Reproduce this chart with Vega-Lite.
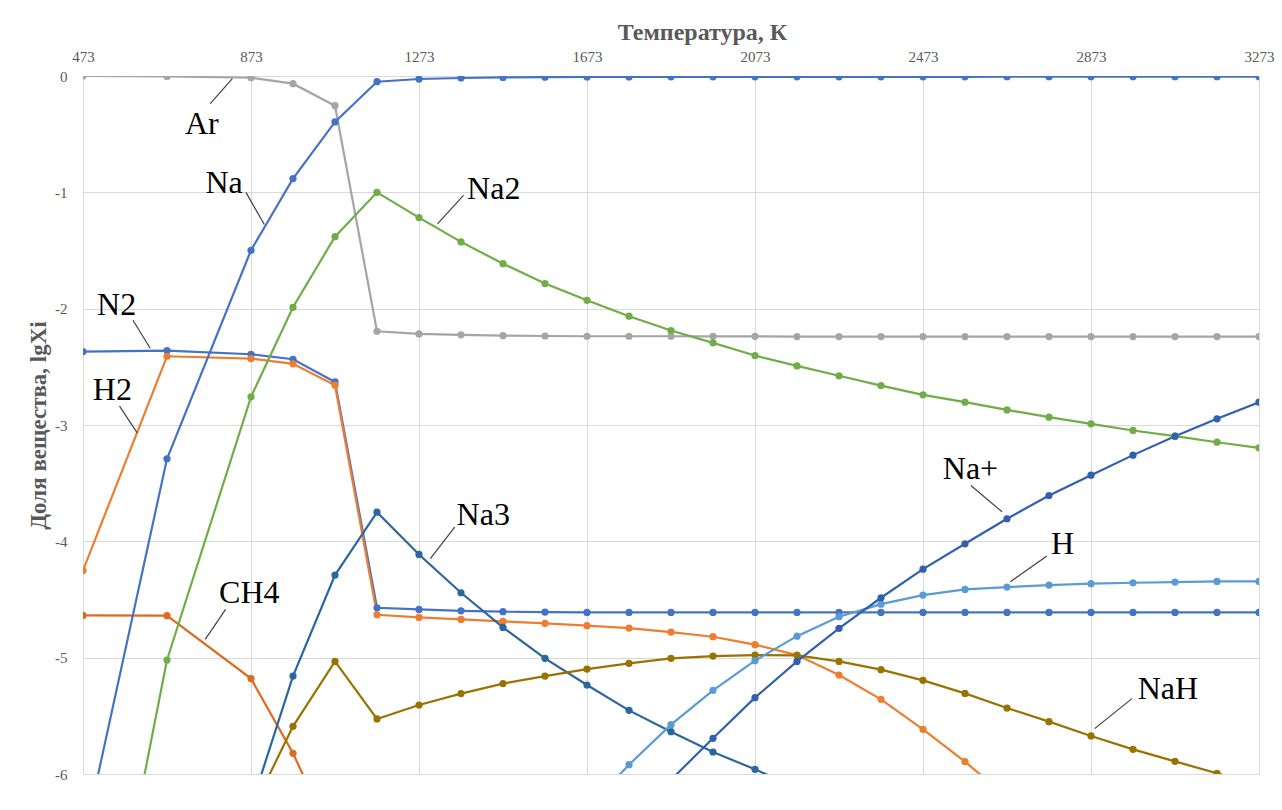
{
  "$schema": "https://vega.github.io/schema/vega-lite/v6.json",
  "width": 1176,
  "height": 698,
  "autosize": "none",
  "padding": {"left": 83, "top": 76, "right": 23, "bottom": 36},
  "background": "white",
  "config": {"view": {"stroke": null}},
  "datasets": {
    "series": [
      {"s":"Ar","T":473,"v":0},{"s":"Ar","T":673,"v":-0.004},{"s":"Ar","T":873,"v":-0.015},{"s":"Ar","T":973,"v":-0.066},{"s":"Ar","T":1073,"v":-0.255},{"s":"Ar","T":1173,"v":-2.194},{"s":"Ar","T":1273,"v":-2.217},{"s":"Ar","T":1373,"v":-2.225},{"s":"Ar","T":1473,"v":-2.232},{"s":"Ar","T":1573,"v":-2.235},{"s":"Ar","T":1673,"v":-2.237},{"s":"Ar","T":1773,"v":-2.237},{"s":"Ar","T":1873,"v":-2.237},{"s":"Ar","T":1973,"v":-2.238},{"s":"Ar","T":2073,"v":-2.238},{"s":"Ar","T":2173,"v":-2.24},{"s":"Ar","T":2273,"v":-2.24},{"s":"Ar","T":2373,"v":-2.24},{"s":"Ar","T":2473,"v":-2.24},{"s":"Ar","T":2573,"v":-2.24},{"s":"Ar","T":2673,"v":-2.24},{"s":"Ar","T":2773,"v":-2.24},{"s":"Ar","T":2873,"v":-2.24},{"s":"Ar","T":2973,"v":-2.24},{"s":"Ar","T":3073,"v":-2.24},{"s":"Ar","T":3173,"v":-2.24},{"s":"Ar","T":3273,"v":-2.24},
      {"s":"N2","T":473,"v":-2.369},{"s":"N2","T":673,"v":-2.36},{"s":"N2","T":873,"v":-2.392},{"s":"N2","T":973,"v":-2.435},{"s":"N2","T":1073,"v":-2.63},{"s":"N2","T":1173,"v":-4.571},{"s":"N2","T":1273,"v":-4.585},{"s":"N2","T":1373,"v":-4.597},{"s":"N2","T":1473,"v":-4.605},{"s":"N2","T":1573,"v":-4.608},{"s":"N2","T":1673,"v":-4.611},{"s":"N2","T":1773,"v":-4.611},{"s":"N2","T":1873,"v":-4.611},{"s":"N2","T":1973,"v":-4.611},{"s":"N2","T":2073,"v":-4.611},{"s":"N2","T":2173,"v":-4.611},{"s":"N2","T":2273,"v":-4.611},{"s":"N2","T":2373,"v":-4.611},{"s":"N2","T":2473,"v":-4.611},{"s":"N2","T":2573,"v":-4.611},{"s":"N2","T":2673,"v":-4.611},{"s":"N2","T":2773,"v":-4.611},{"s":"N2","T":2873,"v":-4.611},{"s":"N2","T":2973,"v":-4.611},{"s":"N2","T":3073,"v":-4.611},{"s":"N2","T":3173,"v":-4.611},{"s":"N2","T":3273,"v":-4.611},
      {"s":"H2","T":473,"v":-4.25},{"s":"H2","T":673,"v":-2.409},{"s":"H2","T":873,"v":-2.429},{"s":"H2","T":973,"v":-2.474},{"s":"H2","T":1073,"v":-2.658},{"s":"H2","T":1173,"v":-4.631},{"s":"H2","T":1273,"v":-4.654},{"s":"H2","T":1373,"v":-4.671},{"s":"H2","T":1473,"v":-4.688},{"s":"H2","T":1573,"v":-4.705},{"s":"H2","T":1673,"v":-4.725},{"s":"H2","T":1773,"v":-4.746},{"s":"H2","T":1873,"v":-4.78},{"s":"H2","T":1973,"v":-4.82},{"s":"H2","T":2073,"v":-4.888},{"s":"H2","T":2173,"v":-4.978},{"s":"H2","T":2273,"v":-5.149},{"s":"H2","T":2373,"v":-5.358},{"s":"H2","T":2473,"v":-5.616},{"s":"H2","T":2573,"v":-5.894},{"s":"H2","T":2673,"v":-6.2},{"s":"H2","T":2773,"v":-6.55},
      {"s":"CH4","T":473,"v":-4.637},{"s":"CH4","T":673,"v":-4.639},{"s":"CH4","T":873,"v":-5.18},{"s":"CH4","T":973,"v":-5.822},{"s":"CH4","T":1073,"v":-6.6},
      {"s":"Na","T":473,"v":-6.6},{"s":"Na","T":673,"v":-3.29},{"s":"Na","T":873,"v":-1.498},{"s":"Na","T":973,"v":-0.882},{"s":"Na","T":1073,"v":-0.395},{"s":"Na","T":1173,"v":-0.049},{"s":"Na","T":1273,"v":-0.026},{"s":"Na","T":1373,"v":-0.017},{"s":"Na","T":1473,"v":-0.012},{"s":"Na","T":1573,"v":-0.01},{"s":"Na","T":1673,"v":-0.008},{"s":"Na","T":1773,"v":-0.008},{"s":"Na","T":1873,"v":-0.007},{"s":"Na","T":1973,"v":-0.007},{"s":"Na","T":2073,"v":-0.007},{"s":"Na","T":2173,"v":-0.007},{"s":"Na","T":2273,"v":-0.007},{"s":"Na","T":2373,"v":-0.007},{"s":"Na","T":2473,"v":-0.007},{"s":"Na","T":2573,"v":-0.007},{"s":"Na","T":2673,"v":-0.006},{"s":"Na","T":2773,"v":-0.006},{"s":"Na","T":2873,"v":-0.006},{"s":"Na","T":2973,"v":-0.006},{"s":"Na","T":3073,"v":-0.006},{"s":"Na","T":3173,"v":-0.006},{"s":"Na","T":3273,"v":-0.006},
      {"s":"Na2","T":473,"v":-8.7},{"s":"Na2","T":673,"v":-5.02},{"s":"Na2","T":873,"v":-2.758},{"s":"Na2","T":973,"v":-1.988},{"s":"Na2","T":1073,"v":-1.381},{"s":"Na2","T":1173,"v":-1.0},{"s":"Na2","T":1273,"v":-1.217},{"s":"Na2","T":1373,"v":-1.426},{"s":"Na2","T":1473,"v":-1.613},{"s":"Na2","T":1573,"v":-1.784},{"s":"Na2","T":1673,"v":-1.928},{"s":"Na2","T":1773,"v":-2.065},{"s":"Na2","T":1873,"v":-2.188},{"s":"Na2","T":1973,"v":-2.294},{"s":"Na2","T":2073,"v":-2.403},{"s":"Na2","T":2173,"v":-2.492},{"s":"Na2","T":2273,"v":-2.577},{"s":"Na2","T":2373,"v":-2.661},{"s":"Na2","T":2473,"v":-2.741},{"s":"Na2","T":2573,"v":-2.804},{"s":"Na2","T":2673,"v":-2.87},{"s":"Na2","T":2773,"v":-2.933},{"s":"Na2","T":2873,"v":-2.99},{"s":"Na2","T":2973,"v":-3.047},{"s":"Na2","T":3073,"v":-3.096},{"s":"Na2","T":3173,"v":-3.148},{"s":"Na2","T":3273,"v":-3.196},
      {"s":"Na3","T":873,"v":-6.28},{"s":"Na3","T":973,"v":-5.158},{"s":"Na3","T":1073,"v":-4.29},{"s":"Na3","T":1173,"v":-3.749},{"s":"Na3","T":1273,"v":-4.113},{"s":"Na3","T":1373,"v":-4.442},{"s":"Na3","T":1473,"v":-4.74},{"s":"Na3","T":1573,"v":-5.006},{"s":"Na3","T":1673,"v":-5.235},{"s":"Na3","T":1773,"v":-5.453},{"s":"Na3","T":1873,"v":-5.636},{"s":"Na3","T":1973,"v":-5.811},{"s":"Na3","T":2073,"v":-5.96},{"s":"Na3","T":2173,"v":-6.12},
      {"s":"NaH","T":873,"v":-6.33},{"s":"NaH","T":973,"v":-5.59},{"s":"NaH","T":1073,"v":-5.032},{"s":"NaH","T":1173,"v":-5.527},{"s":"NaH","T":1273,"v":-5.407},{"s":"NaH","T":1373,"v":-5.309},{"s":"NaH","T":1473,"v":-5.223},{"s":"NaH","T":1573,"v":-5.158},{"s":"NaH","T":1673,"v":-5.098},{"s":"NaH","T":1773,"v":-5.049},{"s":"NaH","T":1873,"v":-5.006},{"s":"NaH","T":1973,"v":-4.986},{"s":"NaH","T":2073,"v":-4.978},{"s":"NaH","T":2173,"v":-4.98},{"s":"NaH","T":2273,"v":-5.032},{"s":"NaH","T":2373,"v":-5.103},{"s":"NaH","T":2473,"v":-5.195},{"s":"NaH","T":2573,"v":-5.307},{"s":"NaH","T":2673,"v":-5.433},{"s":"NaH","T":2773,"v":-5.55},{"s":"NaH","T":2873,"v":-5.673},{"s":"NaH","T":2973,"v":-5.788},{"s":"NaH","T":3073,"v":-5.891},{"s":"NaH","T":3173,"v":-5.994},{"s":"NaH","T":3273,"v":-6.1},
      {"s":"H","T":1673,"v":-6.3},{"s":"H","T":1773,"v":-5.92},{"s":"H","T":1873,"v":-5.576},{"s":"H","T":1973,"v":-5.281},{"s":"H","T":2073,"v":-5.026},{"s":"H","T":2173,"v":-4.815},{"s":"H","T":2273,"v":-4.648},{"s":"H","T":2373,"v":-4.54},{"s":"H","T":2473,"v":-4.462},{"s":"H","T":2573,"v":-4.413},{"s":"H","T":2673,"v":-4.393},{"s":"H","T":2773,"v":-4.376},{"s":"H","T":2873,"v":-4.364},{"s":"H","T":2973,"v":-4.356},{"s":"H","T":3073,"v":-4.35},{"s":"H","T":3173,"v":-4.345},{"s":"H","T":3273,"v":-4.345},
      {"s":"Na+","T":1873,"v":-6.05},{"s":"Na+","T":1973,"v":-5.693},{"s":"Na+","T":2073,"v":-5.344},{"s":"Na+","T":2173,"v":-5.032},{"s":"Na+","T":2273,"v":-4.748},{"s":"Na+","T":2373,"v":-4.485},{"s":"Na+","T":2473,"v":-4.239},{"s":"Na+","T":2573,"v":-4.021},{"s":"Na+","T":2673,"v":-3.806},{"s":"Na+","T":2773,"v":-3.606},{"s":"Na+","T":2873,"v":-3.431},{"s":"Na+","T":2973,"v":-3.259},{"s":"Na+","T":3073,"v":-3.096},{"s":"Na+","T":3173,"v":-2.947},{"s":"Na+","T":3273,"v":-2.804}
    ],
    "labels": [
      {"label":"Ar","T":756,"v":-0.496},
      {"label":"Na","T":809,"v":-1.007},
      {"label":"Na2","T":1451,"v":-1.054},
      {"label":"N2","T":553,"v":-2.051},
      {"label":"H2","T":543,"v":-2.787},
      {"label":"CH4","T":869,"v":-4.533},
      {"label":"Na3","T":1426,"v":-3.863},
      {"label":"Na+","T":2586,"v":-3.462},
      {"label":"H","T":2805,"v":-4.113},
      {"label":"NaH","T":3056,"v":-5.352}
    ],
    "leaders": [
      {"id":"Ar","T":776,"v":-0.238},{"id":"Ar","T":828.5,"v":-0.023},
      {"id":"Na","T":861,"v":-1.0},{"id":"Na","T":904.7,"v":-1.277},
      {"id":"Na2","T":1379,"v":-1.026},{"id":"Na2","T":1317,"v":-1.271},
      {"id":"N2","T":592,"v":-2.1},{"id":"N2","T":633,"v":-2.34},
      {"id":"H2","T":560,"v":-2.838},{"id":"H2","T":602,"v":-3.067},
      {"id":"CH4","T":812.5,"v":-4.585},{"id":"CH4","T":764,"v":-4.843},
      {"id":"Na3","T":1358,"v":-3.878},{"id":"Na3","T":1300,"v":-4.149},
      {"id":"Na+","T":2587,"v":-3.52},{"id":"Na+","T":2661,"v":-3.746},
      {"id":"H","T":2768,"v":-4.127},{"id":"H","T":2681,"v":-4.347},
      {"id":"NaH","T":2970.6,"v":-5.352},{"id":"NaH","T":2881.6,"v":-5.61}
    ]
  },
  "encoding": {
    "x": {
      "field": "T", "type": "quantitative",
      "scale": {"domain": [473, 3273], "nice": false, "zero": false},
      "axis": {
        "orient": "top",
        "values": [473, 873, 1273, 1673, 2073, 2473, 2873, 3273],
        "format": "d",
        "labelFlush": false, "labelOverlap": false,
        "title": "Температура, К",
        "titleFont": "Liberation Serif", "titleFontSize": 24, "titleFontWeight": "bold", "titleColor": "#595959",
        "titleX": 619, "titleY": -37, "titleAlign": "center", "titleBaseline": "alphabetic",
        "labelFont": "Liberation Serif", "labelFontSize": 15, "labelColor": "#595959", "labelPadding": 12,
        "ticks": false, "domain": false,
        "grid": true, "gridColor": "#d9d9d9", "gridWidth": 1
      }
    },
    "y": {
      "field": "v", "type": "quantitative",
      "scale": {"domain": [-6, 0], "nice": false, "zero": false},
      "axis": {
        "values": [-6, -5, -4, -3, -2, -1, 0],
        "labelExpr": "'' + datum.value",
        "title": "Доля вещества, lgXi",
        "titleFont": "Liberation Serif", "titleFontSize": 23, "titleFontWeight": "bold", "titleColor": "#595959", "titlePadding": 4,
        "labelFont": "Liberation Serif", "labelFontSize": 15, "labelColor": "#595959", "labelPadding": 16,
        "ticks": false, "domain": false,
        "grid": true, "gridColor": "#d9d9d9", "gridWidth": 1
      }
    }
  },
  "layer": [
    {
      "data": {"name": "series"},
      "mark": {"type": "line", "clip": true, "strokeWidth": 2.2},
      "encoding": {
        "color": {"field": "s", "type": "nominal", "legend": null,
          "scale": {"domain": ["Ar","N2","H2","CH4","Na","Na2","Na3","NaH","H","Na+"],
                    "range": ["#A5A5A5","#4472C4","#ED7D31","#DD6A1E","#4472C4","#70AD47","#2B669E","#997300","#5B9BD5","#3160AE"]}}
      }
    },
    {
      "data": {"name": "series"},
      "mark": {"type": "point", "clip": true, "filled": true, "opacity": 1, "size": 52},
      "encoding": {
        "color": {"field": "s", "type": "nominal", "legend": null,
          "scale": {"domain": ["Ar","N2","H2","CH4","Na","Na2","Na3","NaH","H","Na+"],
                    "range": ["#A5A5A5","#4472C4","#ED7D31","#DD6A1E","#4472C4","#70AD47","#2B669E","#997300","#5B9BD5","#3160AE"]}}
      }
    },
    {
      "data": {"name": "leaders"},
      "mark": {"type": "line", "color": "#404040", "strokeWidth": 1.2},
      "encoding": {"detail": {"field": "id"}}
    },
    {
      "data": {"name": "labels"},
      "mark": {"type": "text", "font": "Liberation Serif", "fontSize": 32, "color": "#000000", "align": "center", "baseline": "alphabetic"},
      "encoding": {"text": {"field": "label"}}
    }
  ]
}
